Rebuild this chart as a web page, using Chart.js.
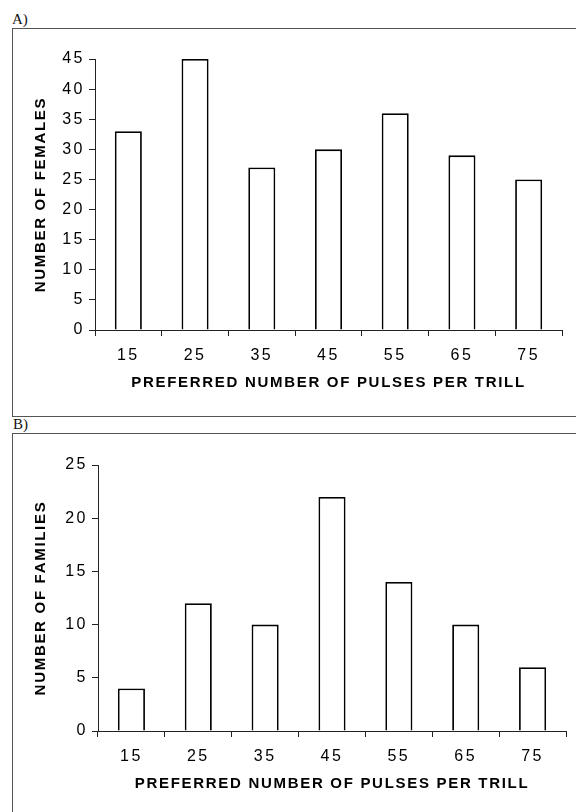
<!DOCTYPE html>
<html><head><meta charset="utf-8">
<script src="https://cdn.jsdelivr.net/npm/chart.js@4.4.1/dist/chart.umd.min.js"></script>
<style>
html,body{margin:0;padding:0;background:#fff;width:576px;height:812px;overflow:hidden;}
body{position:relative;}
.lab{position:absolute;font-family:"Liberation Serif","Times New Roman",serif;font-size:15px;color:#111;line-height:1;}
.box{position:absolute;border-left:1px solid #555;border-top:1px solid #555;}
.wrap{position:absolute;left:0;width:576px;}
canvas{display:block;}
</style></head><body>
<div class="lab" style="left:12px;top:12px">A)</div>
<div class="box" style="left:12px;top:28px;width:600px;height:387px;border-bottom:1px solid #555"></div>
<div class="lab" style="left:13px;top:417px">B)</div>
<div class="box" style="left:12px;top:433px;width:600px;height:420px"></div>
<div class="wrap" style="top:29px;height:386px"><canvas id="cA" width="576" height="386"></canvas></div>
<div class="wrap" style="top:434px;height:378px"><canvas id="cB" width="576" height="378"></canvas></div>
<script>
// ---- data ----
const categories = ['15','25','35','45','55','65','75'];
const femalesCounts = [33,45,27,30,36,29,25];
const familiesCounts = [4,12,10,22,14,10,6];
const xTitle = 'PREFERRED NUMBER OF PULSES PER TRILL';
const yTitleA = 'NUMBER OF FEMALES';
const yTitleB = 'NUMBER OF FAMILIES';
const yMaxA = 45, yStepA = 5;
const yMaxB = 25, yStepB = 5;

// letter spacing for text (bold titles vs tick numbers)
const spacingPlugin = {
  id: 'spacing',
  beforeInit(chart) {
    const ctx = chart.ctx;
    const orig = ctx.fillText;
    ctx.fillText = function () {
      this.letterSpacing = /bold/.test(this.font) ? '1.7px' : '2.5px';
      return orig.apply(this, arguments);
    };
  }
};

const AX = '#222';
function makeChart(id, values, yTitle, yMax, yStep, geo) {
  return new Chart(document.getElementById(id), {
    type: 'bar',
    data: {
      labels: categories,
      datasets: [{
        data: values,
        backgroundColor: '#ffffff',
        borderColor: '#000000',
        borderWidth: 1.8,
        barPercentage: 0.405,
        categoryPercentage: 1.0
      }]
    },
    plugins: [spacingPlugin],
    options: {
      responsive: false,
      animation: false,
      layout: { padding: { top: geo.padTop, right: geo.padRight, left: 0, bottom: 0 } },
      plugins: { legend: { display: false }, tooltip: { enabled: false } },
      scales: {
        x: {
          type: 'category',
          offset: true,
          grid: { display: true, drawOnChartArea: false, offset: true, tickLength: 6, color: AX, lineWidth: 1 },
          border: { display: true, color: AX, width: 1 },
          ticks: { color: '#000', font: { family: 'Liberation Sans', size: 16 }, padding: 10, maxRotation: 0, autoSkip: false },
          title: { display: true, text: xTitle, color: '#000',
                   font: { family: 'Liberation Sans', size: 15, weight: 'bold' },
                   padding: { top: 0, bottom: geo.xTitlePad } },
          afterFit(s) { s.height = geo.xHeight; }
        },
        y: {
          min: 0, max: yMax,
          grid: { display: true, drawOnChartArea: false, tickLength: 6, color: AX, lineWidth: 1 },
          border: { display: true, color: AX, width: 1 },
          ticks: { stepSize: yStep, color: '#000', font: { family: 'Liberation Sans', size: 16 }, padding: 4 },
          title: { display: true, text: yTitle, color: '#000',
                   font: { family: 'Liberation Sans', size: 15, weight: 'bold' },
                   padding: { top: geo.yTitlePad, bottom: 0 } },
          afterFit(s) { s.width = geo.yWidth; }
        }
      }
    }
  });
}

makeChart('cA', femalesCounts, yTitleA, yMaxA, yStepA,
  { padTop: 30, padRight: 14, xHeight: 85, yWidth: 95, xTitlePad: 23, yTitlePad: 32 });
makeChart('cB', familiesCounts, yTitleB, yMaxB, yStepB,
  { padTop: 31, padRight: 10, xHeight: 81, yWidth: 98, xTitlePad: 19, yTitlePad: 32 });
</script>
</body></html>
